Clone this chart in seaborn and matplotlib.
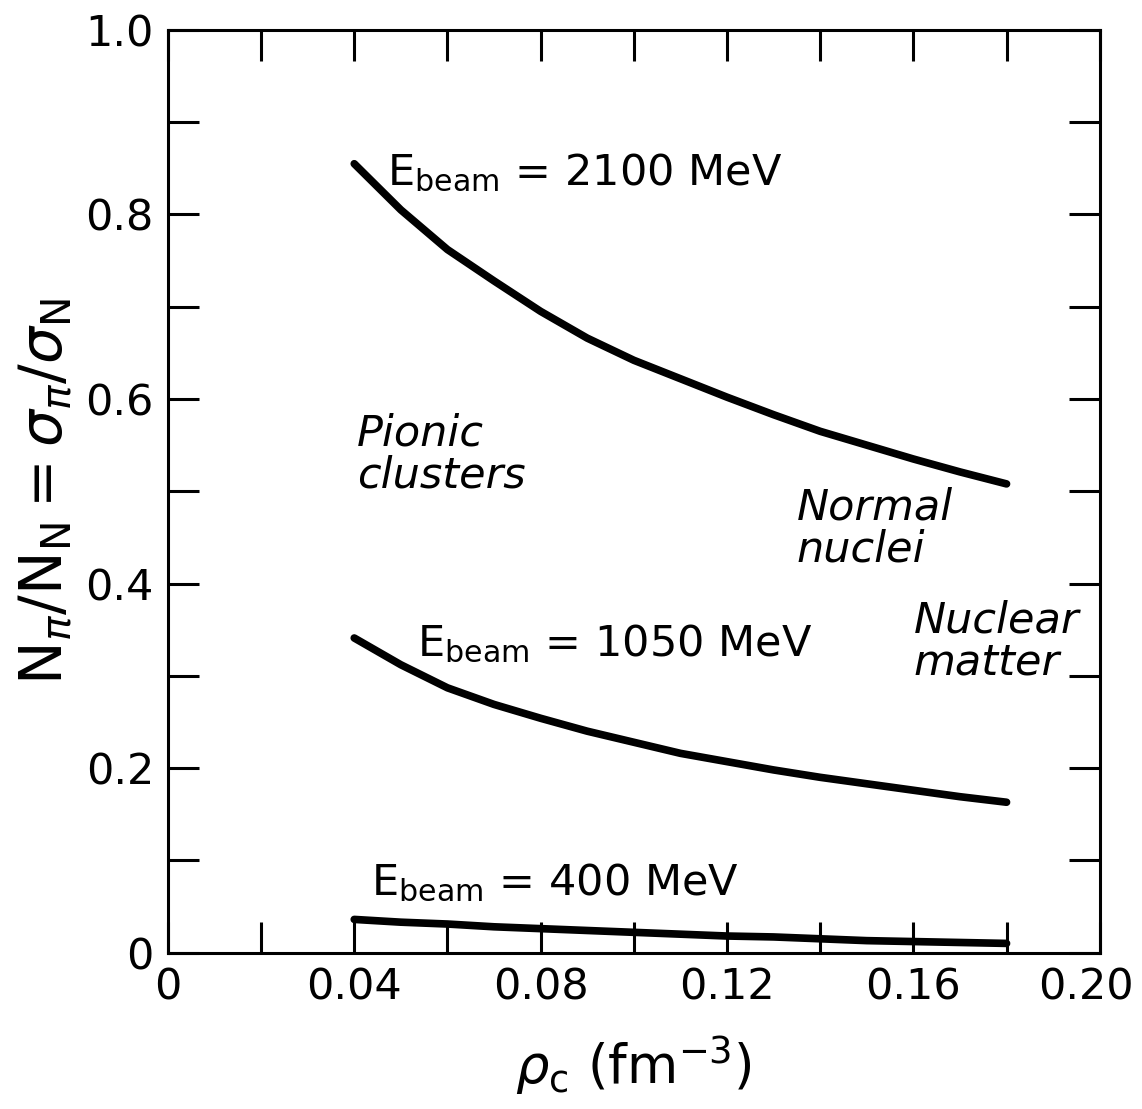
import numpy as np
import pandas as pd
import matplotlib
matplotlib.use("Agg")
import matplotlib.pyplot as plt
import matplotlib.transforms as mtransforms
import seaborn as sns

# density rho_c (fm^-3)
rho = [0.04, 0.05, 0.06, 0.07, 0.08, 0.09, 0.10, 0.11, 0.12, 0.13, 0.14, 0.15, 0.16, 0.17, 0.18]

# N_pi / N_N for each beam energy
ratio_2100 = [0.855, 0.805, 0.762, 0.728, 0.695, 0.666, 0.642, 0.622, 0.602, 0.583, 0.565, 0.550, 0.535, 0.521, 0.508]
ratio_1050 = [0.341, 0.312, 0.287, 0.269, 0.254, 0.240, 0.228, 0.216, 0.207, 0.198, 0.190, 0.183, 0.176, 0.169, 0.163]
ratio_400 = [0.036, 0.033, 0.031, 0.028, 0.026, 0.024, 0.022, 0.020, 0.018, 0.017, 0.015, 0.013, 0.012, 0.011, 0.010]

energies = ["2100", "1050", "400"]

x_ticks = [0.0, 0.02, 0.04, 0.06, 0.08, 0.10, 0.12, 0.14, 0.16, 0.18, 0.20]
x_tick_labels = ["0", "", "0.04", "", "0.08", "", "0.12", "", "0.16", "", "0.20"]
y_ticks = [0.0, 0.1, 0.2, 0.3, 0.4, 0.5, 0.6, 0.7, 0.8, 0.9, 1.0]
y_tick_labels = ["0", "", "0.2", "", "0.4", "", "0.6", "", "0.8", "", "1.0"]

df = pd.DataFrame({
    "rho": rho * 3,
    "ratio": ratio_2100 + ratio_1050 + ratio_400,
    "energy": [e for e in energies for _ in rho],
})

sns.set_theme(style="ticks")
plt.rcParams["font.family"] = ["DejaVu Sans"]
plt.rcParams["mathtext.fontset"] = "dejavusans"

fig = plt.figure(figsize=(11.42, 11.09), dpi=100)
ax = fig.add_axes([0.147, 0.141, 0.816, 0.832])

sns.lineplot(data=df, x="rho", y="ratio", units="energy", estimator=None,
             color="black", linewidth=5.5, ax=ax, legend=False)

ax.set_xlim(0, 0.20)
ax.set_ylim(0, 1.0)
ax.set_xticks(x_ticks)
ax.set_xticklabels(x_tick_labels)
ax.set_yticks(y_ticks)
ax.set_yticklabels(y_tick_labels)
ax.tick_params(direction="in", length=22, width=2.2, labelsize=31, colors="black",
               top=True, right=True, pad=10)
for sp in ax.spines.values():
    sp.set_linewidth(2.2)
    sp.set_color("black")

# last x label sits a bit left of its tick so it stays on the page
last = ax.get_xticklabels()[-1]
last.set_transform(last.get_transform() + mtransforms.ScaledTranslation(-14 / 100, 0, fig.dpi_scale_trans))

ax.set_xlabel(r"$\rho_{\mathregular{c}}$ (fm$^{-3}$)", fontsize=38, labelpad=18, color="black")
ax.set_ylabel(r"$\mathregular{N}_\pi/\mathregular{N_N} = \sigma_\pi/\sigma_\mathregular{N}$",
              fontsize=42, labelpad=8, color="black")

lab = dict(fontsize=31, color="black")
ax.text(0.047, 0.845, r"E$_{\mathregular{beam}}$ = 2100 MeV", va="center", ha="left", **lab)
ax.text(0.0535, 0.335, r"E$_{\mathregular{beam}}$ = 1050 MeV", va="center", ha="left", **lab)
ax.text(0.0435, 0.075, r"E$_{\mathregular{beam}}$ = 400 MeV", va="center", ha="left", **lab)

it = dict(fontsize=31, style="italic", color="black", va="center", ha="left", linespacing=1.0)
ax.text(0.0405, 0.54, "Pionic\nclusters", **it)
ax.text(0.135, 0.46, "Normal\nnuclei", **it)
ax.text(0.160, 0.337, "Nuclear\nmatter", **it)

fig.savefig("out.png", dpi=100, facecolor="white")
